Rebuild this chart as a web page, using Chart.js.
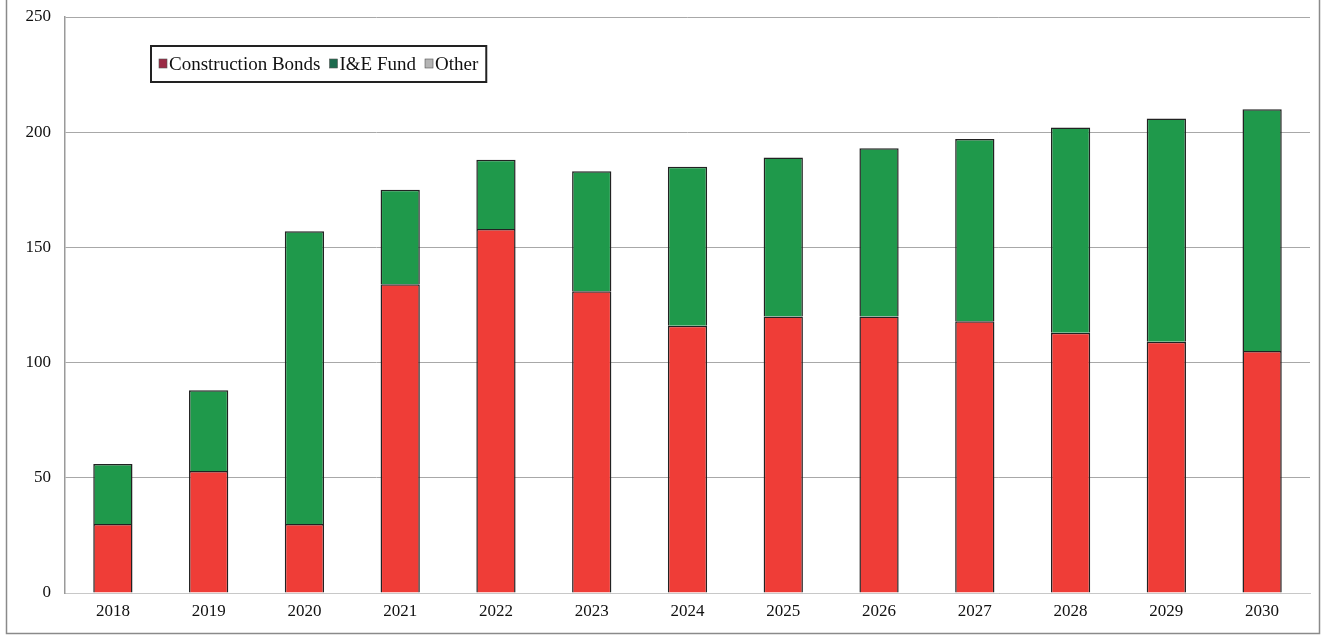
<!DOCTYPE html>
<html>
<head>
<meta charset="utf-8">
<script src="https://cdn.jsdelivr.net/npm/chart.js@4/dist/chart.umd.min.js"></script>
<style>
  html, body { margin: 0; padding: 0; background: #fff; }
  #wrap { width: 1322px; height: 639px; position: relative; }
</style>
</head>
<body>
<div id="wrap"><canvas id="fundingChart" width="1322" height="639"></canvas></div>
<script>
// data
const years = ['2018', '2019', '2020', '2021', '2022', '2023', '2024', '2025', '2026', '2027', '2028', '2029', '2030'];
const constructionBonds = [30, 53, 30, 134, 158, 131, 116, 120, 120, 118, 113, 109, 105];
const ieFund = [26, 35, 127, 41, 30, 52, 69, 69, 73, 79, 89, 97, 105];
const other = [0, 0, 0, 0, 0, 0, 0, 0, 0, 0, 0, 0, 0];
const yTicks = [0, 50, 100, 150, 200, 250];

const legendColors = ['#9b2a45', '#1d6a4e', '#b4b4b4'];
const serif = '"Liberation Serif", "Times New Roman", serif';

// legend box drawn inside the plot, top left
const boxLegend = {
    id: 'boxLegend',
    afterDraw(chart) {
        const ctx = chart.ctx;
        ctx.save();
        ctx.font = '19px ' + serif;
        const x0 = 151, y0 = 46, h = 36;
        let x = x0 + 8;
        const items = chart.data.datasets.map((ds, i) => {
            const w = ctx.measureText(ds.label).width;
            const it = { label: ds.label, color: legendColors[i], x: x };
            x += 9 + 2 + w + 8;
            return it;
        });
        const boxW = x - x0 - 1;
        ctx.fillStyle = '#fff';
        ctx.fillRect(x0, y0, boxW, h);
        ctx.strokeStyle = '#222';
        ctx.lineWidth = 2;
        ctx.strokeRect(x0, y0, boxW, h);
        items.forEach(it => {
            ctx.fillStyle = it.color;
            ctx.fillRect(it.x, y0 + 13, 8, 9);
            ctx.strokeStyle = '#555';
            ctx.lineWidth = 0.6;
            ctx.strokeRect(it.x, y0 + 13, 8, 9);
            ctx.fillStyle = '#111';
            ctx.textBaseline = 'middle';
            ctx.fillText(it.label, it.x + 10, y0 + h / 2 + 1);
        });
        ctx.restore();
    }
};

// outer frame of the picture
const frame = {
    id: 'frame',
    afterDraw(chart) {
        const ctx = chart.ctx;
        ctx.save();
        ctx.strokeStyle = '#8a8a8a';
        ctx.lineWidth = 1.5;
        ctx.beginPath();
        ctx.moveTo(6.5, 0);
        ctx.lineTo(6.5, 633.5);
        ctx.lineTo(1319.5, 633.5);
        ctx.lineTo(1319.5, 0);
        ctx.stroke();
        ctx.restore();
    }
};

const ctx = document.getElementById('fundingChart').getContext('2d');
new Chart(ctx, {
    type: 'bar',
    data: {
        labels: years,
        datasets: [
            {
                label: 'Construction Bonds',
                data: constructionBonds,
                backgroundColor: '#ef3d37',
                borderColor: '#222',
                borderWidth: 1.5
            },
            {
                label: 'I&E Fund',
                data: ieFund,
                backgroundColor: '#1f994b',
                borderColor: '#222',
                borderWidth: 1.5
            },
            {
                label: 'Other',
                data: other,
                backgroundColor: '#b4b4b4',
                borderColor: '#222',
                borderWidth: 0
            }
        ]
    },
    plugins: [boxLegend, frame],
    options: {
        responsive: false,
        animation: false,
        layout: { padding: { top: 17, right: 12, left: 0, bottom: 0 } },
        datasets: {
            bar: { barPercentage: 0.41, categoryPercentage: 1.0 }
        },
        plugins: {
            legend: { display: false },
            tooltip: { enabled: false }
        },
        scales: {
            x: {
                stacked: true,
                grid: { display: false, drawTicks: false },
                border: { display: true, color: '#c8c8c8', width: 1 },
                ticks: { color: '#111', font: { family: serif, size: 17 }, padding: 8 },
                afterFit(scale) { scale.height = 46; }
            },
            y: {
                stacked: true,
                min: 0,
                max: 250,
                afterBuildTicks(scale) { scale.ticks = yTicks.map(v => ({ value: v })); },
                grid: { color: '#a8a8a8', lineWidth: 1, drawTicks: false },
                border: { display: true, color: '#9a9a9a', width: 1.5 },
                ticks: { color: '#111', font: { family: serif, size: 17 }, padding: 14 },
                afterFit(scale) { scale.width = 65; scale.paddingTop = 0; scale.paddingBottom = 0; }
            }
        }
    }
});
</script>
</body>
</html>
